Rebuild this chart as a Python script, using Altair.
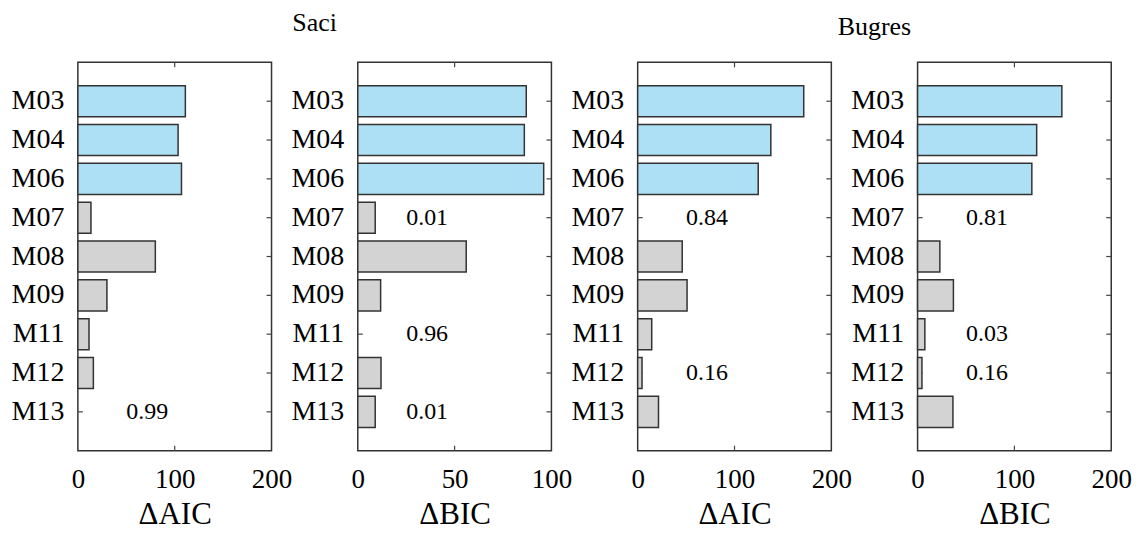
import altair as alt
import pandas as pd

FONT = "Liberation Serif"

models = ["M03", "M04", "M06", "M07", "M08", "M09", "M11", "M12", "M13"]
best_models = ["M03", "M04", "M06"]

saci_aic = [111, 103.5, 107, 13.5, 80, 30, 11.5, 16, 0]
saci_bic = [87, 86, 96, 9, 56, 11.8, 0, 12, 9]
bugres_aic = [171.5, 137.5, 124.5, 0, 46, 51, 14.5, 4.5, 21.5]
bugres_bic = [149, 123, 118, 0, 23, 37, 7.5, 4.5, 36.5]

saci_aic_w_models = ["M13"]
saci_aic_w_labels = ["0.99"]
saci_bic_w_models = ["M07", "M11", "M13"]
saci_bic_w_labels = ["0.01", "0.96", "0.01"]
bugres_aic_w_models = ["M07", "M12"]
bugres_aic_w_labels = ["0.84", "0.16"]
bugres_bic_w_models = ["M07", "M11", "M12"]
bugres_bic_w_labels = ["0.81", "0.03", "0.16"]

W, H = 194, 389
GAP = 86.4


def panel(values, ann_models, ann_labels, xmax, xlabel, title=None, title_offset=24):
    df = pd.DataFrame({
        "model": models,
        "value": values,
        "group": ["best" if m in best_models else "other" for m in models],
    })
    df_bars = df[df["value"] > 0]
    df_ticks = pd.DataFrame({"model": models})
    df_xt = pd.DataFrame({"value": [xmax / 2]})
    df_ann = pd.DataFrame({"model": ann_models, "label": ann_labels,
                           "value": [xmax / 4] * len(ann_models)})

    yscale = alt.Scale(domain=models, paddingInner=0.2, paddingOuter=0.6)
    xscale = alt.Scale(domain=[0, xmax], nice=False, zero=True)
    yaxis = alt.Axis(title=None, ticks=False, tickSize=0, domain=False, grid=False,
                     labelFont=FONT, labelFontSize=28, labelColor="#000",
                     labelPadding=14)
    xaxis = alt.Axis(values=[0, xmax / 2, xmax], format="d", title=xlabel,
                     ticks=False, tickSize=0, domain=False, grid=False,
                     labelFont=FONT, labelFontSize=27, labelColor="#000",
                     labelPadding=16, labelFlush=False,
                     titleFont=FONT, titleFontSize=31, titleFontWeight="normal",
                     titleColor="#000", titlePadding=7)

    ytl = alt.Chart(df_ticks).mark_rule(color="#444", strokeWidth=1.2).encode(
        y=alt.Y("model:N", scale=yscale, axis=yaxis),
        x=alt.value(0), x2=alt.value(5))
    ytr = alt.Chart(df_ticks).mark_rule(color="#444", strokeWidth=1.2).encode(
        y=alt.Y("model:N"), x=alt.value(W - 5), x2=alt.value(W))
    xtb = alt.Chart(df_xt).mark_rule(color="#444", strokeWidth=1.2).encode(
        x=alt.X("value:Q", scale=xscale, axis=xaxis),
        y=alt.value(H - 5), y2=alt.value(H))
    xtt = alt.Chart(df_xt).mark_rule(color="#444", strokeWidth=1.2).encode(
        x=alt.X("value:Q"), y=alt.value(0), y2=alt.value(5))

    bars = alt.Chart(df_bars).mark_bar(stroke="#333", strokeWidth=1.5).encode(
        y=alt.Y("model:N"),
        x=alt.X("value:Q"),
        color=alt.Color("group:N", legend=None,
                        scale=alt.Scale(domain=["best", "other"],
                                        range=["#ADE0F5", "#D3D3D3"])),
    )
    text = alt.Chart(df_ann).mark_text(align="left", baseline="middle",
                                       font=FONT, fontSize=24, color="#000").encode(
        y=alt.Y("model:N"), x=alt.X("value:Q"), text="label:N")

    props = dict(width=W, height=H)
    if title:
        props["title"] = alt.TitleParams(title, anchor="middle", dx=(W + GAP) / 2,
                                         font=FONT, fontSize=26, fontWeight="normal",
                                         color="#000", offset=title_offset)
    return alt.layer(ytl, ytr, xtb, xtt, bars, text).properties(**props)


p1 = panel(saci_aic, saci_aic_w_models, saci_aic_w_labels, 200, "ΔAIC", "Saci", 26)
p2 = panel(saci_bic, saci_bic_w_models, saci_bic_w_labels, 100, "ΔBIC")
p3 = panel(bugres_aic, bugres_aic_w_models, bugres_aic_w_labels, 200, "ΔAIC", "Bugres", 22)
p4 = panel(bugres_bic, bugres_bic_w_models, bugres_bic_w_labels, 200, "ΔBIC")

chart = alt.hconcat(p1, p2, p3, p4, spacing=GAP, bounds="flush").properties(
    padding={"left": 2, "top": 0, "right": 0, "bottom": 0},
    background="white",
).configure_view(stroke="#333", strokeWidth=1.5)

chart.save("out.html", embed_options={"renderer": "svg", "actions": False})
